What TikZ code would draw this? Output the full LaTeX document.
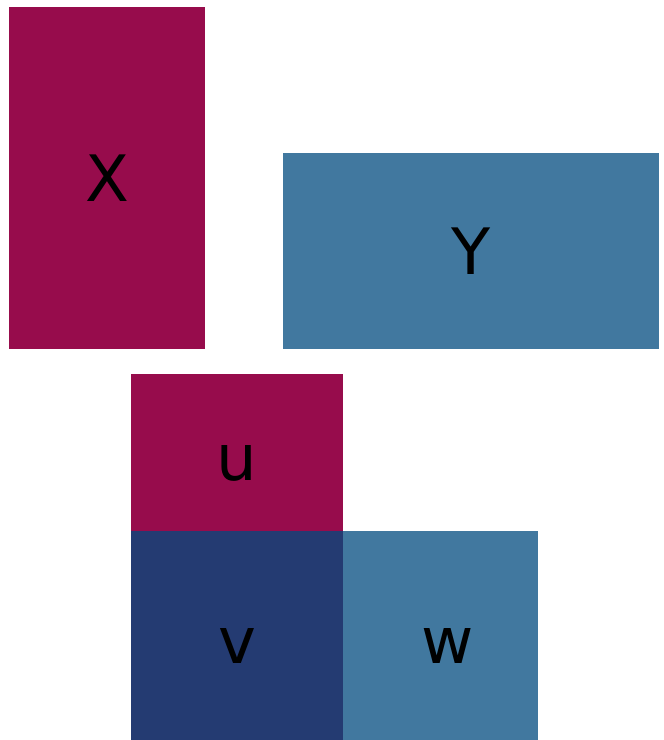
\documentclass[tikz,border=0pt]{standalone}
\usepackage{fontspec}
\setmainfont{DejaVu Sans}
\definecolor{crim}{HTML}{970C4C}
\definecolor{steel}{HTML}{41789F}
\definecolor{navy}{HTML}{243B72}
\newcommand{\lowlab}[2][0pt]{\raisebox{-27.5pt}[0pt][0pt]{\hspace*{#1}#2}}
\begin{document}
\begin{tikzpicture}[x=1pt,y=-1pt,
  blk/.style={draw=none,inner sep=0pt,outer sep=0pt,font=\fontsize{64}{64}\selectfont,text=black}]
\useasboundingbox (0,0) rectangle (664,740);
\node[blk,fill=crim,minimum width=196pt,minimum height=342pt] (X) at (107,178) {X};
\node[blk,fill=steel,minimum width=376pt,minimum height=196pt] (Y) at (471,251) {Y};
\node[blk,fill=crim,minimum width=212pt,minimum height=157pt] (u) at (237,452.5) {\lowlab{u}};
\node[blk,fill=navy,minimum width=212pt,minimum height=209pt] (v) at (237,635.5) {\lowlab{v}};
\node[blk,fill=steel,minimum width=195pt,minimum height=209pt] (w) at (440.5,635.5) {\lowlab[14pt]{w}};
\end{tikzpicture}
\end{document}
